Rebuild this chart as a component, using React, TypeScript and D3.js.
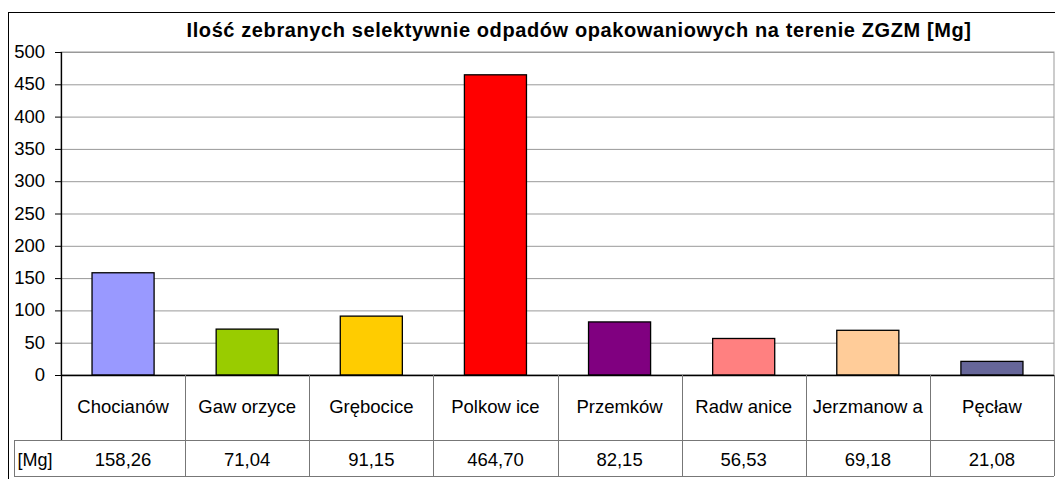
import React from 'react';
import * as d3 from 'd3';

const categories = ['Chocianów', 'Gaworzyce', 'Grębocice', 'Polkowice', 'Przemków', 'Radwanice', 'Jerzmanowa', 'Pęcław'];
// how the names appear in the data table of the reference (spacing artefacts kept)
const tableLabels = ['Chocianów', 'Gaw orzyce', 'Grębocice', 'Polkow ice', 'Przemków', 'Radw anice', 'Jerzmanow a', 'Pęcław'];
const values = [158.26, 71.04, 91.15, 464.7, 82.15, 56.53, 69.18, 21.08];
const valueLabels = ['158,26', '71,04', '91,15', '464,70', '82,15', '56,53', '69,18', '21,08'];
const barColors = ['#9999FF', '#99CC00', '#FFCC00', '#FF0000', '#800080', '#FF8080', '#FFCC99', '#666699'];
const yTicks = [0, 50, 100, 150, 200, 250, 300, 350, 400, 450, 500];
const title = 'Ilość zebranych selektywnie odpadów opakowaniowych na terenie ZGZM [Mg]';
const unitLabel = '[Mg]';

const W = 1055;
const H = 479;
const font = '"Liberation Sans", Arial, sans-serif';

const App = () => {
  // plot area
  const left = 61;
  const right = 1054;
  const top = 52;
  const bottom = 375;
  const catRowBottom = 440;
  const valRowBottom = 476;

  const x = d3.scaleBand<string>().domain(categories).range([left, right]).paddingInner(0).paddingOuter(0);
  const y = d3.scaleLinear().domain([0, 500]).range([bottom, top]);
  const barW = x.bandwidth() / 2;

  return (
    <svg width={W} height={H} style={{ position: 'absolute', left: 0, top: 0 }}>
      <rect x={0} y={0} width={W} height={H} fill="#fff" />
      {/* outer chart border */}
      <rect x={8.5} y={12.5} width={W + 10} height={H} fill="none" stroke="#000" strokeWidth={1} />

      <text x={579} y={37} textAnchor="middle" fontFamily={font} fontWeight="bold" fontSize={20} letterSpacing={0.6}>
        {title}
      </text>

      {/* plot area border + gridlines */}
      <rect x={left} y={top} width={right - left} height={bottom - top} fill="none" stroke="#999" strokeWidth={1} />
      {yTicks.filter(t => t > 0).map(t => (
        <line key={t} x1={left} x2={right} y1={y(t) + 0.5} y2={y(t) + 0.5} stroke="#999" strokeWidth={1} />
      ))}

      {/* bars */}
      {categories.map((c, i) => (
        <rect
          key={c}
          x={(x(c) as number) + x.bandwidth() / 4}
          y={y(values[i])}
          width={barW}
          height={bottom - y(values[i])}
          fill={barColors[i]}
          stroke="#000"
          strokeWidth={1.3}
        />
      ))}

      {/* y axis */}
      <line x1={left + 0.5} x2={left + 0.5} y1={top} y2={catRowBottom} stroke="#000" strokeWidth={1.3} />
      {yTicks.map(t => (
        <g key={t}>
          <line x1={left - 6} x2={left} y1={y(t) + 0.5} y2={y(t) + 0.5} stroke="#000" strokeWidth={1} />
          <text x={left - 16} y={y(t) + 6} textAnchor="end" fontFamily={font} fontSize={18.5}>
            {t}
          </text>
        </g>
      ))}

      {/* data table */}
      <line x1={left} x2={right} y1={bottom + 0.5} y2={bottom + 0.5} stroke="#000" strokeWidth={1.5} />
      <line x1={14} x2={right} y1={catRowBottom + 0.5} y2={catRowBottom + 0.5} stroke="#777" strokeWidth={1} />
      <line x1={14} x2={right} y1={valRowBottom + 0.5} y2={valRowBottom + 0.5} stroke="#777" strokeWidth={1} />
      <line x1={14.5} x2={14.5} y1={catRowBottom} y2={valRowBottom} stroke="#777" strokeWidth={1} />
      {categories.map(c => (
        <line
          key={c}
          x1={Math.round((x(c) as number) + x.bandwidth()) + 0.5}
          x2={Math.round((x(c) as number) + x.bandwidth()) + 0.5}
          y1={bottom}
          y2={valRowBottom}
          stroke="#777"
          strokeWidth={1}
        />
      ))}
      <text x={35} y={466} textAnchor="middle" fontFamily={font} fontSize={18}>
        {unitLabel}
      </text>
      {categories.map((c, i) => (
        <g key={c}>
          <text
            x={(x(c) as number) + x.bandwidth() / 2}
            y={413}
            textAnchor="middle"
            fontFamily={font}
            fontSize={18.5}
          >
            {tableLabels[i]}
          </text>
          <text
            x={(x(c) as number) + x.bandwidth() / 2}
            y={466}
            textAnchor="middle"
            fontFamily={font}
            fontSize={18.5}
          >
            {valueLabels[i]}
          </text>
        </g>
      ))}
    </svg>
  );
};

export default App;
